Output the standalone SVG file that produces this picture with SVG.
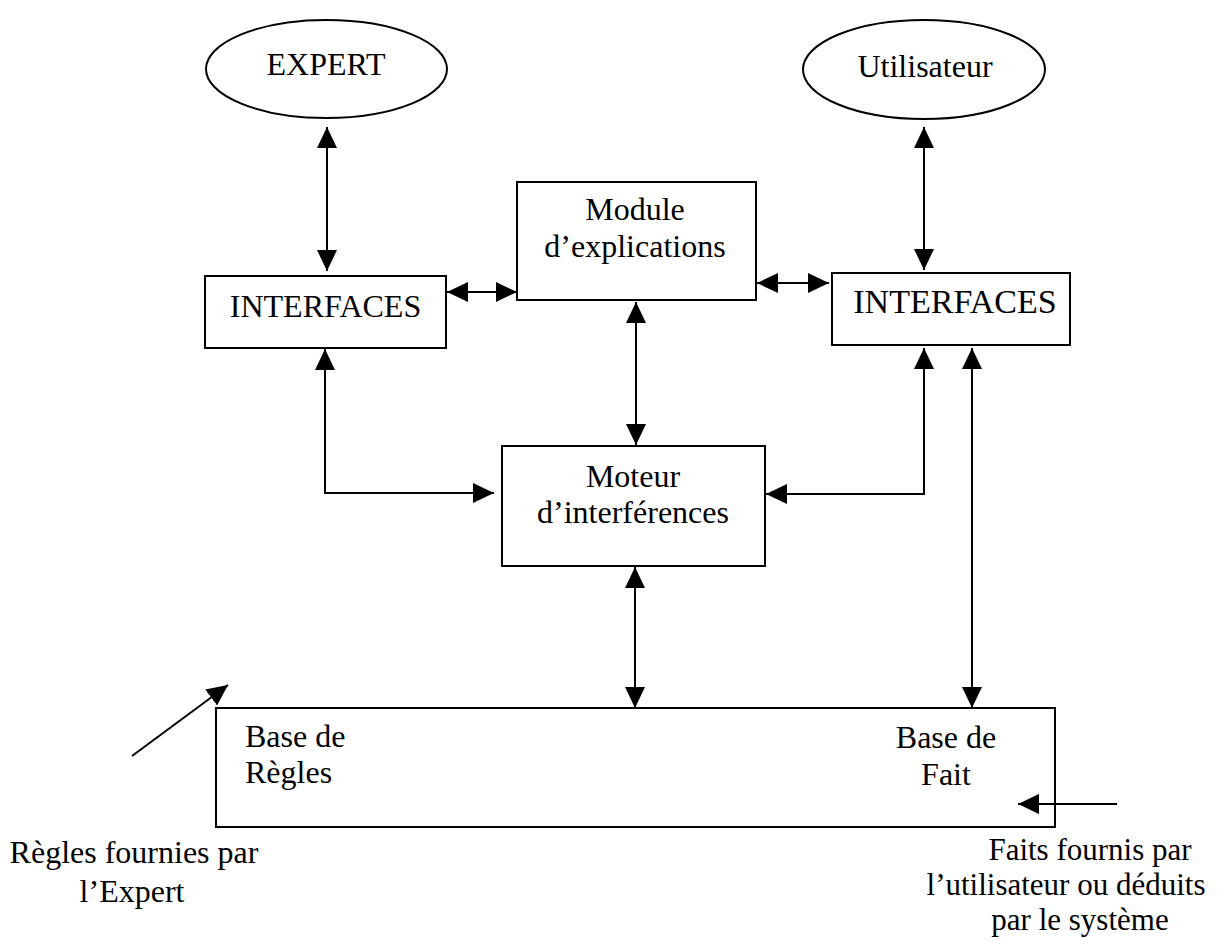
<svg xmlns="http://www.w3.org/2000/svg" width="1227" height="947" viewBox="0 0 1227 947">
  <style>
    .shape { fill: #ffffff; stroke: #000000; stroke-width: 2; }
    .label { font-family: "Liberation Serif", "Times New Roman", serif; font-size: 32px; fill: #000000; }
    .mid { text-anchor: middle; }
    .wire { fill: none; stroke: #000000; stroke-width: 2; }
    .both { marker-start: url(#head); marker-end: url(#head); }
    .one { marker-end: url(#head); }
  </style>
  <defs>
    <marker id="head" viewBox="0 0 21 20" refX="21" refY="10" markerWidth="21" markerHeight="20" markerUnits="userSpaceOnUse" orient="auto-start-reverse">
      <path d="M0,0 L21,10 L0,20 Z" fill="#000000"/>
    </marker>
  </defs>

  <rect width="1227" height="947" fill="#ffffff"/>

  <!-- actors -->
  <g id="expert">
    <ellipse class="shape" cx="326.5" cy="69" rx="120.5" ry="49"/>
    <text class="label mid" x="326" y="75">EXPERT</text>
  </g>
  <g id="utilisateur">
    <ellipse class="shape" cx="924" cy="69.5" rx="121" ry="49.5"/>
    <text class="label mid" x="925" y="77">Utilisateur</text>
  </g>

  <!-- interfaces -->
  <g id="interfaces-expert">
    <rect class="shape" x="205" y="276" width="241" height="72"/>
    <text class="label mid" x="325.5" y="317">INTERFACES</text>
  </g>
  <g id="interfaces-utilisateur">
    <rect class="shape" x="832" y="273" width="238" height="72"/>
    <text class="label mid" x="955" y="313" style="font-size:34px">INTERFACES</text>
  </g>

  <!-- core modules -->
  <g id="module-explications">
    <rect class="shape" x="517" y="182" width="239" height="118"/>
    <text class="label mid" x="635" y="220">Module</text>
    <text class="label mid" x="635" y="257">d’explications</text>
  </g>
  <g id="moteur">
    <rect class="shape" x="502" y="446" width="263" height="120"/>
    <text class="label mid" x="633" y="487">Moteur</text>
    <text class="label mid" x="633" y="523">d’interférences</text>
  </g>

  <!-- knowledge base -->
  <g id="base">
    <rect class="shape" x="216" y="708" width="839" height="119"/>
    <text class="label" x="245" y="747">Base de</text>
    <text class="label" x="245" y="783">Règles</text>
    <text class="label mid" x="946" y="748">Base de</text>
    <text class="label mid" x="946" y="785">Fait</text>
  </g>

  <!-- captions -->
  <g id="legende-regles">
    <text class="label mid" x="134" y="863">Règles fournies par</text>
    <text class="label mid" x="132" y="902">l’Expert</text>
  </g>
  <g id="legende-faits">
    <text class="label mid" x="1090" y="860" style="font-size:31px">Faits fournis par</text>
    <text class="label mid" x="1066" y="895" style="font-size:31px">l’utilisateur ou déduits</text>
    <text class="label mid" x="1080" y="930" style="font-size:31px">par le système</text>
  </g>

  <!-- connectors -->
  <g id="connectors">
    <line class="wire both" x1="327" y1="127" x2="327" y2="271"/>
    <line class="wire both" x1="924" y1="127" x2="924" y2="270"/>
    <line class="wire both" x1="447" y1="292" x2="517" y2="292"/>
    <line class="wire both" x1="757" y1="283" x2="829" y2="283"/>
    <line class="wire both" x1="636" y1="302" x2="636" y2="445"/>
    <path class="wire both" d="M325,349 V493 H494"/>
    <path class="wire both" d="M924,348 V494 H766"/>
    <line class="wire both" x1="972" y1="348" x2="972" y2="708"/>
    <line class="wire both" x1="635" y1="567" x2="635" y2="708"/>
    <line class="wire one" x1="132" y1="756" x2="228" y2="685"/>
    <line class="wire one" x1="1117" y1="804" x2="1018" y2="804"/>
  </g>
</svg>
